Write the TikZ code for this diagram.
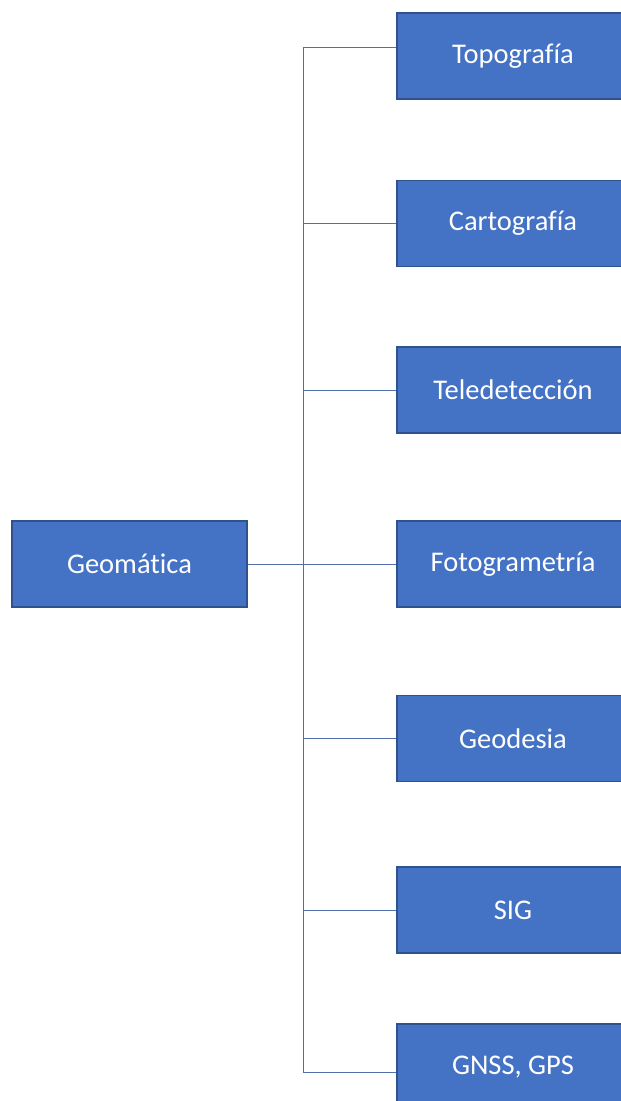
\documentclass[tikz,border=0pt]{standalone}
\usepackage{fontspec}
\setmainfont{Carlito}[Ligatures=NoCommon]
\definecolor{boxfill}{RGB}{68,114,196}
\definecolor{boxline}{RGB}{47,82,143}
\definecolor{linkcol}{RGB}{80,110,170}
\tikzset{every picture/.style={line width=0.75pt}}
\tikzset{
  topicbox/.style={draw=boxline, line width=1.2pt, fill=boxfill, text=white,
    minimum width=232, minimum height=86, inner sep=0pt,
    font=\fontsize{28.5}{34}\selectfont},
  link/.style={draw=linkcol, line width=1pt}
}
\begin{document}
\begin{tikzpicture}[x=1pt,y=1pt,yscale=-1]
\clip (0,0) rectangle (621,1101);
\fill[white] (0,0) rectangle (621,1101);

%Root
\node[topicbox, minimum width=235] (geo) at (129.5,564) {Geomática};

%Branches
\node[topicbox] (topo) at (513,56) {Topografía};
\node[topicbox] (carto) at (513,223.5) {Cartografía};
\node[topicbox] (tele) at (513,390) {Teledetección};
\node[topicbox] (foto) at (513,564) {Fotogrametría};
\node[topicbox] (geod) at (513,738.5) {Geodesia};
\node[topicbox] (sig) at (513,910) {SIG};
\node[topicbox] (gnss) at (513,1067) {GNSS, GPS};

%Trunk
\coordinate (top) at (303,47);
\coordinate (bot) at (303,1072);
\draw[link] (top) -- (bot);
\draw[link] (geo.east) -- (foto.west);
\draw[link] (top) -- ([yshift=-9pt]topo.west);
\draw[link] (bot) -- ([yshift=5pt]gnss.west);
\foreach \n in {carto,tele,geod,sig}
  \draw[link] (\n.west -| top) -- (\n.west);

\end{tikzpicture}
\end{document}
